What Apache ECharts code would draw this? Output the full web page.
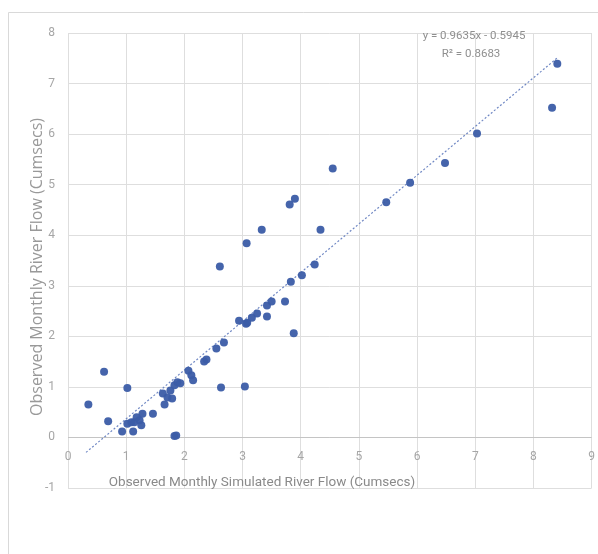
<!DOCTYPE html>
<html>
<head>
<meta charset="utf-8">
<script src="https://cdn.jsdelivr.net/npm/echarts@6/dist/echarts.min.js"></script>
<style>
html,body{margin:0;padding:0;background:#fff;}
#c{width:598px;height:554px;}
</style>
</head>
<body>
<div id="c"></div>
<script>
// Simulated (x) vs observed (y) monthly river flow, cumecs
var simulated = [0.35,0.62,0.69,0.93,1.02,1.02,1.09,1.12,1.14,1.18,1.23,1.26,1.28,1.46,1.63,1.66,1.71,1.76,1.79,1.83,1.88,1.83,1.86,1.93,2.07,2.12,2.15,2.34,2.38,2.55,2.63,2.61,2.68,2.94,3.04,3.06,3.08,3.16,3.25,3.33,3.42,3.42,3.50,3.73,3.83,3.81,3.90,3.88,4.02,4.24,4.34,4.55,5.47,5.88,6.48,7.03,8.32,8.41,3.07];
var observed  = [0.65,1.30,0.32,0.12,0.98,0.27,0.30,0.12,0.30,0.40,0.34,0.24,0.47,0.47,0.87,0.65,0.79,0.93,0.77,1.03,1.09,0.03,0.04,1.07,1.32,1.23,1.13,1.50,1.54,1.76,0.99,3.38,1.88,2.31,1.01,2.25,2.27,2.37,2.45,4.11,2.61,2.39,2.69,2.69,3.08,4.61,4.72,2.06,3.21,3.42,4.11,5.32,4.65,5.04,5.43,6.01,6.52,7.39,3.84];
// Linear trendline reported on the chart
var trendSlope = 0.9635;
var trendIntercept = -0.5945;
var trendR2 = 0.8683;
var trendXRange = [0.31, 8.41];
var xTicks = [0,1,2,3,4,5,6,7,8,9];
var yTicks = [-1,0,1,2,3,4,5,6,7,8];

var points = simulated.map(function(x,i){return [x, observed[i]];});
var trend = trendXRange.map(function(x){return [x, trendSlope*x + trendIntercept];});

var chart = echarts.init(document.getElementById('c'));
var fam = "Roboto, 'Open Sans', sans-serif";
chart.setOption({
  animation:false,
  backgroundColor:'#fff',
  grid:{left:68,right:3,top:33,bottom:66},
  xAxis:{
    type:'value', min:xTicks[0], max:xTicks[xTicks.length-1], interval:1,
    axisLine:{show:false,onZero:false},
    axisTick:{show:false},
    axisLabel:{color:'#a6a6a6',fontSize:12,fontFamily:fam,margin:-37},
    splitLine:{show:true,lineStyle:{color:'#dedede',width:1}}
  },
  yAxis:{
    type:'value', min:yTicks[0], max:yTicks[yTicks.length-1], interval:1,
    axisLine:{show:false},
    axisTick:{show:false},
    axisLabel:{color:'#a6a6a6',fontSize:12,fontFamily:fam,margin:13},
    splitLine:{show:true,lineStyle:{color:'#dedede',width:1}}
  },
  graphic:[
    {type:'rect',shape:{x:8.5,y:12.5,width:600,height:560},style:{fill:'none',stroke:'#d9d9d9',lineWidth:1},z:-10,silent:true},
    {type:'text',x:262,y:483,style:{text:'Observed Monthly Simulated River Flow (Cumsecs)',fill:'#8a8a8a',font:"13.5px "+fam,textAlign:'center',textVerticalAlign:'middle'},z:10},
    {type:'text',x:37,y:267,rotation:Math.PI/2,style:{text:'Observed Monthly River Flow (Cumsecs)',fill:'#999999',font:"16px 'Open Sans', sans-serif",textAlign:'center',textVerticalAlign:'middle'},z:10},
    {type:'text',x:474,y:36,style:{text:'y = '+trendSlope+'x - '+Math.abs(trendIntercept),fill:'#8f8f8f',font:"11.5px "+fam,textAlign:'center',textVerticalAlign:'middle'},z:10},
    {type:'text',x:471,y:54,style:{text:'R\u00B2 = '+trendR2,fill:'#8f8f8f',font:"11.5px "+fam,textAlign:'center',textVerticalAlign:'middle'},z:10}
  ],
  series:[
    {type:'scatter',data:points,symbol:'circle',symbolSize:8,
     itemStyle:{color:'#3b5ca6',opacity:0.95},z:3,
     markLine:{silent:true,symbol:'none',label:{show:false},
       lineStyle:{color:'#c4c4c4',width:1,type:'solid'},
       data:[{yAxis:0}],z:1}},
    {type:'line',data:trend,symbol:'none',
     lineStyle:{color:'#7088c4',width:1.2,type:[2,2]},z:2}
  ]
});
</script>
</body>
</html>
